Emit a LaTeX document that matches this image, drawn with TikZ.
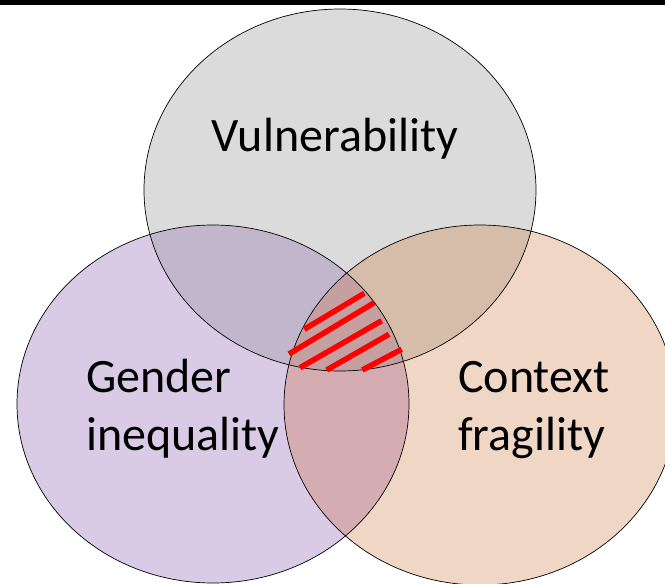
\documentclass[tikz,border=0pt]{standalone}
\usepackage{fontspec}
\setmainfont{Carlito}
\definecolor{cT}{RGB}{219,219,219}
\definecolor{cL}{RGB}{217,203,230}
\definecolor{cR}{RGB}{240,215,197}
\definecolor{cTL}{RGB}{193,182,203}
\definecolor{cTR}{RGB}{214,189,170}
\definecolor{cLR}{RGB}{213,172,178}
\definecolor{cTLR}{RGB}{196,160,160}
\begin{document}
\begin{tikzpicture}[x=1pt,y=-1pt,
  outline/.style={draw=black,line width=0.7pt},
  hatchline/.style={draw=red,line width=5.5pt},
  lab/.style={font=\fontsize{48}{58}\selectfont, inner sep=0pt, align=left}]
\useasboundingbox (0,0) rectangle (665,584);
\clip (0,0) rectangle (665,584);
\coordinate (T) at (340,190);
\coordinate (L) at (213,404);
\coordinate (R) at (480,405);
% single regions
\fill[cT] (T) ellipse [x radius=196, y radius=181];
\fill[cL] (L) ellipse [x radius=196, y radius=179];
\fill[cR] (R) ellipse [x radius=196, y radius=180];
% pairwise
\begin{scope}
  \clip (L) ellipse [x radius=196, y radius=179];
  \fill[cLR] (R) ellipse [x radius=196, y radius=180];
\end{scope}
\begin{scope}
  \clip (T) ellipse [x radius=196, y radius=181];
  \fill[cTL] (L) ellipse [x radius=196, y radius=179];
  \fill[cTR] (R) ellipse [x radius=196, y radius=180];
  \clip (L) ellipse [x radius=196, y radius=179];
  \fill[cTLR] (R) ellipse [x radius=196, y radius=180];
\end{scope}
% outlines
\draw[outline] (T) ellipse [x radius=196, y radius=181];
\draw[outline] (L) ellipse [x radius=196, y radius=179];
\draw[outline] (R) ellipse [x radius=196, y radius=180];
% hatching
\coordinate (h1a) at (304.3,329.3); \coordinate (h1b) at (364.3,293.3);
\coordinate (h2a) at (289,354);     \coordinate (h2b) at (374.3,302.7);
\coordinate (h3a) at (300,367.7);   \coordinate (h3b) at (381.7,320.7);
\coordinate (h4a) at (326.7,370);   \coordinate (h4b) at (389,334.3);
\coordinate (h5a) at (362.3,370);   \coordinate (h5b) at (401.7,349.3);
\draw[hatchline] (h1a) -- (h1b);
\draw[hatchline] (h2a) -- (h2b);
\draw[hatchline] (h3a) -- (h3b);
\draw[hatchline] (h4a) -- (h4b);
\draw[hatchline] (h5a) -- (h5b);
% labels
\node[lab, anchor=base] (vul) at (335,151) {Vulnerability};
\node[lab, anchor=base west] (gen) at (86,450) {Gender\\inequality};
\node[lab, anchor=base west] (con) at (458,450) {Context\\fragility};
% top bar
\fill[black] (0,0) rectangle (665,4.5);
\end{tikzpicture}
\end{document}
